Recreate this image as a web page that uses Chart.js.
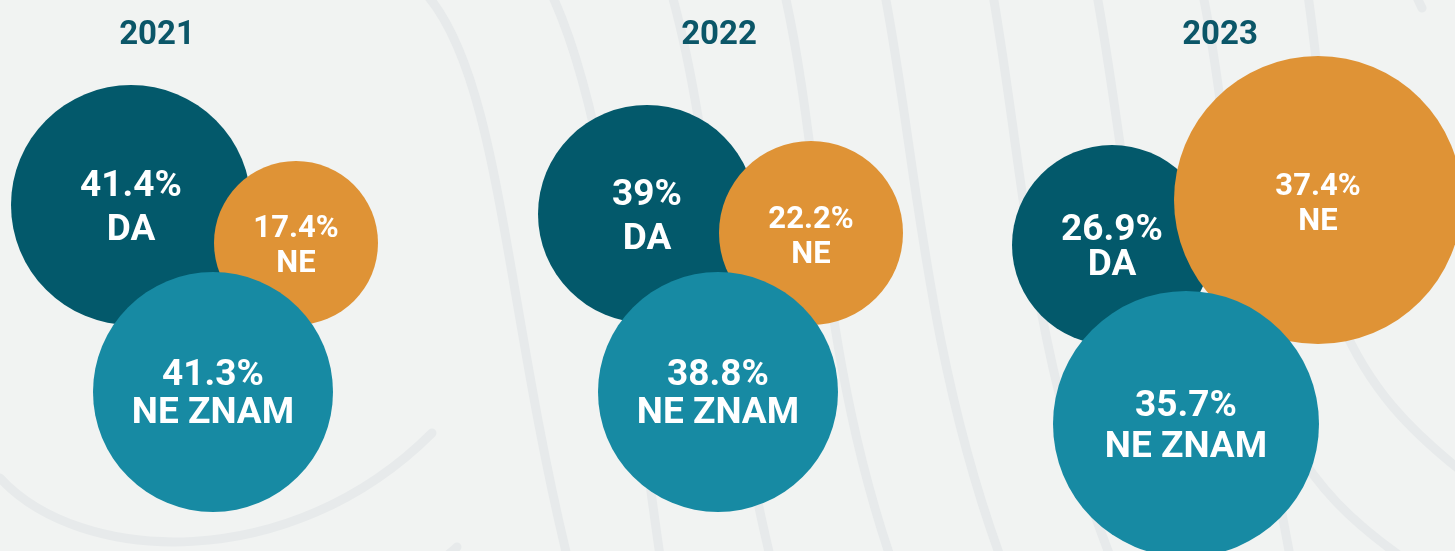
<!DOCTYPE html>
<html>
<head>
<meta charset="utf-8">
<script src="https://cdn.jsdelivr.net/npm/chart.js@4/dist/chart.umd.min.js"></script>
<style>
  html, body { margin: 0; padding: 0; background: #f1f3f2; overflow: hidden; }
  #chart { display: block; }
</style>
</head>
<body>
<canvas id="chart" width="1455" height="551" style="width:1455px;height:551px"></canvas>
<script>
/* global Chart */

const years = ['2021', '2022', '2023'];
const daValues = [41.4, 39, 26.9];
const neValues = [17.4, 22.2, 37.4];
const neZnamValues = [41.3, 38.8, 35.7];

// layout, in pixels of the 1455 x 551 picture
const titleX = [157, 719, 1220];
const daCenter = [[131, 205], [647, 214], [1112, 245]];
const neCenter = [[296, 243], [811, 233], [1318, 200]];
const neZnamCenter = [[213, 392], [718, 392], [1186, 424]];
const daRadius = [120, 109, 100];
const neRadius = [82, 92, 144];
const neZnamRadius = [120, 120, 133];
// baseline of the value line and of the answer line, relative to the bubble centre
const labelOffsets = {
  'DA': [[-9, 35], [-9, 35], [-5, 30]],
  'NE': [[-6, 29], [-5, 30], [-5, 30]],
  'NE ZNAM': [[-7, 31], [-7, 31], [-8, 33]],
};

// faint background swirls (cubic curves)
const bgCurves = [
  [0, 478, 80, 565, 290, 575, 432, 433],
  [427, -5, 500, 80, 505, 300, 567, 556],
  [457, 547, 452, 552, 446, 556, 440, 562],
  [552, -5, 610, 120, 630, 350, 660, 556],
  [672, -5, 715, 150, 720, 350, 770, 556],
  [785, -5, 820, 150, 820, 350, 890, 556],
  [885, -5, 915, 150, 925, 350, 1000, 556],
  [993, -5, 1025, 180, 1030, 350, 1110, 556],
  [1097, -5, 1125, 150, 1140, 350, 1200, 556],
  [1203, -5, 1225, 100, 1240, 300, 1290, 556],
  [1308, -5, 1320, 80, 1330, 200, 1340, 320],
  [1340, 320, 1370, 390, 1410, 430, 1460, 470],
  [1290, 440, 1320, 490, 1350, 520, 1400, 556],
  [1416, -5, 1418, 0, 1420, 4, 1422, 8]
];

const PIC_W = 1455;
const PIC_H = 551;

function bubbleSet(label, values, centers, radii, color, order) {
  return {
    label: label,
    data: values.map(function(v, i) {
      return { x: centers[i][0], y: centers[i][1], r: radii[i], v: v };
    }),
    backgroundColor: color,
    hoverBackgroundColor: color,
    borderWidth: 0,
    hoverBorderWidth: 0,
    hoverRadius: 0,
    order: order,
    clip: false,
  };
}

const backdrop = {
  id: 'backdrop',
  beforeDraw: function(chart) {
    const ctx = chart.ctx;
    ctx.save();
    ctx.fillStyle = '#f1f3f2';
    ctx.fillRect(0, 0, chart.width, chart.height);
    ctx.scale(chart.width / PIC_W, chart.height / PIC_H);
    ctx.strokeStyle = '#e7eaeb';
    ctx.lineWidth = 9;
    ctx.lineCap = 'round';
    bgCurves.forEach(function(c) {
      ctx.beginPath();
      ctx.moveTo(c[0], c[1]);
      ctx.bezierCurveTo(c[2], c[3], c[4], c[5], c[6], c[7]);
      ctx.stroke();
    });
    ctx.restore();
  },
};

const bubbleLabels = {
  id: 'bubbleLabels',
  afterDatasetsDraw: function(chart) {
    const ctx = chart.ctx;
    ctx.save();
    ctx.textAlign = 'center';
    ctx.textBaseline = 'alphabetic';
    ctx.fillStyle = '#ffffff';
    chart.data.datasets.forEach(function(ds, d) {
      const meta = chart.getDatasetMeta(d);
      const small = ds.label === 'NE';
      ctx.font = '700 ' + (small ? 31 : 37) + 'px Roboto';
      meta.data.forEach(function(el, i) {
        const off = labelOffsets[ds.label][i];
        ctx.fillText(ds.data[i].v + '%', el.x, el.y + off[0]);
        ctx.fillText(ds.label, el.x, el.y + off[1]);
      });
    });

    // year headings
    ctx.fillStyle = '#0b5668';
    ctx.font = '700 33px Roboto';
    years.forEach(function(yr, i) {
      ctx.fillText(yr, chart.scales.x.getPixelForValue(titleX[i]), chart.scales.y.getPixelForValue(44));
    });
    ctx.restore();
  },
};

const ctx = document.getElementById('chart').getContext('2d');

new Chart(ctx, {
  type: 'bubble',
  data: {
    datasets: [
      bubbleSet('DA', daValues, daCenter, daRadius, '#03596b', 3),
      bubbleSet('NE', neValues, neCenter, neRadius, '#df9336', 2),
      bubbleSet('NE ZNAM', neZnamValues, neZnamCenter, neZnamRadius, '#178aa3', 1),
    ],
  },
  options: {
    responsive: false,
    animation: false,
    events: [],
    layout: { padding: 0, autoPadding: false },
    scales: {
      x: { type: 'linear', min: 0, max: PIC_W, display: false },
      y: { type: 'linear', min: 0, max: PIC_H, reverse: true, display: false },
    },
    plugins: {
      legend: { display: false },
      tooltip: { enabled: false },
    },
  },
  plugins: [backdrop, bubbleLabels],
});
</script>
</body>
</html>
